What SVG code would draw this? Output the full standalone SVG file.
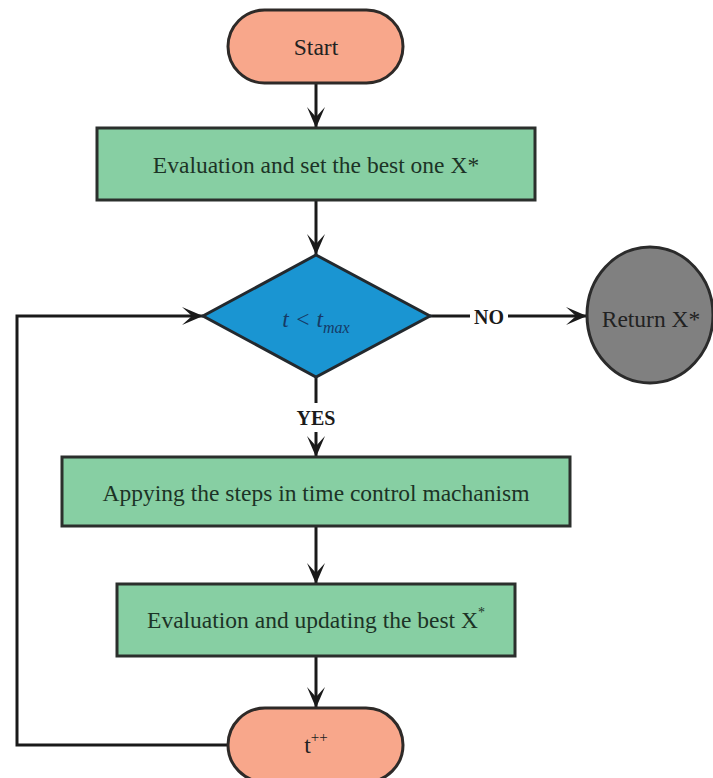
<svg xmlns="http://www.w3.org/2000/svg" width="713" height="778" viewBox="0 0 713 778">
<style>
.term{fill:#F8A78B;stroke:#2e2a28;stroke-width:3}
.proc{fill:#87CFA3;stroke:#2b2f2c;stroke-width:3}
.dec{fill:#1A95D2;stroke:#23292e;stroke-width:3}
.end{fill:#808080;stroke:#2b2b2b;stroke-width:3}
.t{font-family:"Liberation Serif","Times New Roman",serif;font-size:23.5px;text-anchor:middle;fill:#222}
.tg{fill:#1c3326}
.lbl{font-family:"Liberation Serif","Times New Roman",serif;font-size:20px;font-weight:bold;text-anchor:middle;fill:#1a1a1a}
.c{fill:none;stroke:#1a1a1a;stroke-width:3}
</style>
<defs>
<marker id="ah" markerUnits="userSpaceOnUse" markerWidth="24" markerHeight="20" refX="21" refY="9" orient="auto">
<path d="M0,0 L21,9 L0,18 L10,9 Z" fill="#1a1a1a"/>
</marker>
</defs>
<g id="connectors">
<line class="c" x1="316" y1="83" x2="316" y2="128" marker-end="url(#ah)"/>
<line class="c" x1="316" y1="200" x2="316" y2="255" marker-end="url(#ah)"/>
<line class="c" x1="430" y1="316" x2="470" y2="316"/>
<line class="c" x1="508" y1="316" x2="587" y2="316" marker-end="url(#ah)"/>
<line class="c" x1="316" y1="377" x2="316" y2="403"/>
<line class="c" x1="316" y1="432" x2="316" y2="457" marker-end="url(#ah)"/>
<line class="c" x1="316" y1="526" x2="316" y2="584" marker-end="url(#ah)"/>
<line class="c" x1="316" y1="656" x2="316" y2="708" marker-end="url(#ah)"/>
<polyline class="c" points="228,745 17,745 17,316 203,316" marker-end="url(#ah)"/>
<text class="lbl" x="489" y="324">NO</text>
<text class="lbl" x="316" y="425">YES</text>
</g>
<g id="start">
<rect class="term" x="228" y="10" width="175" height="73" rx="36.5"/>
<text class="t" x="316" y="55">Start</text>
</g>
<g id="eval1">
<rect class="proc" x="97" y="128" width="438" height="72"/>
<text class="t tg" x="316" y="173">Evaluation and set the best one X*</text>
</g>
<g id="decision">
<polygon class="dec" points="316,255 430,316 316,377 203,316"/>
<text class="t" x="316" y="327" style="font-style:italic;fill:#163a66">t &lt; t<tspan font-size="16" dy="6">max</tspan></text>
</g>
<g id="return">
<ellipse class="end" cx="650" cy="315" rx="63" ry="68"/>
<text class="t" x="651" y="327">Return X*</text>
</g>
<g id="apply">
<rect class="proc" x="62" y="457" width="508" height="69"/>
<text class="t tg" x="316" y="501">Appying the steps in time control machanism</text>
</g>
<g id="eval2">
<rect class="proc" x="117" y="584" width="398" height="72"/>
<text class="t tg" x="316" y="628">Evaluation and updating the best X<tspan font-size="14" dy="-11">*</tspan></text>
</g>
<g id="incr">
<rect class="term" x="228" y="708" width="175" height="74" rx="37"/>
<text class="t" x="316" y="753">t<tspan font-size="15" dy="-11">++</tspan></text>
</g>
</svg>
